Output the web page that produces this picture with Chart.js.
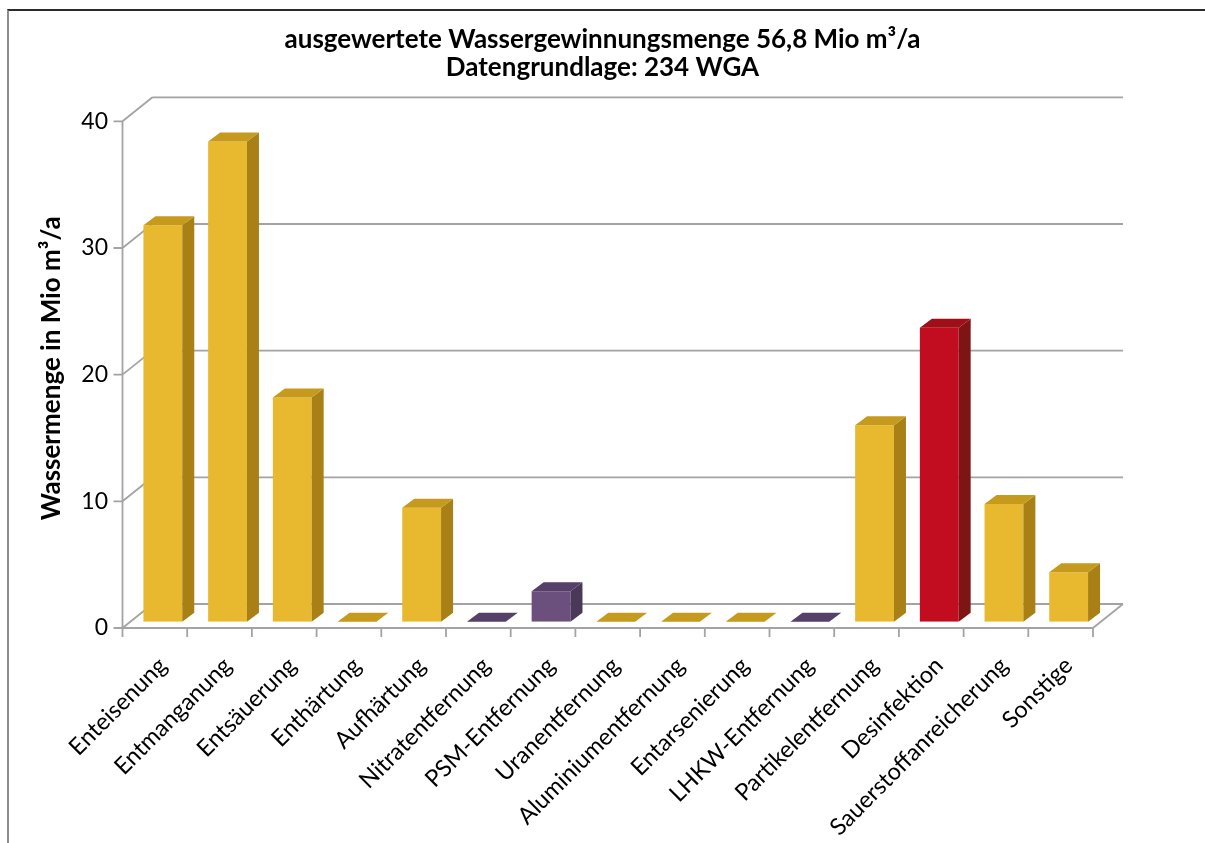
<!DOCTYPE html>
<html>
<head>
<meta charset="utf-8">
<script src="https://cdn.jsdelivr.net/npm/chart.js@4.4.0/dist/chart.umd.min.js"></script>
<style>
  html, body { margin: 0; padding: 0; background: #fff; }
  #frame { position: absolute; left: 7px; top: 9px; right: 0; height: 900px;
           border-left: 2px solid #8c8c8c; border-top: 2px solid #2a2a2a; }
  #chart { position: absolute; left: 0; top: 0; }
</style>
</head>
<body>
<div id="frame"></div>
<canvas id="chart" width="1205" height="843"></canvas>
<script>
// values (Mio m³/a)
const categories = [
  'Enteisenung', 'Entmanganung', 'Entsäuerung', 'Enthärtung', 'Aufhärtung',
  'Nitratentfernung', 'PSM-Entfernung', 'Uranentfernung', 'Aluminiumentfernung',
  'Entarsenierung', 'LHKW-Entfernung', 'Partikelentfernung', 'Desinfektion',
  'Sauerstoffanreicherung', 'Sonstige'
];
const waterVolume = [31.3, 37.9, 17.7, 0, 9.0, 0, 2.4, 0, 0, 0, 0, 15.5, 23.2, 9.3, 3.9];
const yTicks = [0, 10, 20, 30, 40];
const purpleCats = ['Nitratentfernung', 'PSM-Entfernung', 'LHKW-Entfernung'];
const redCats = ['Desinfektion'];
const titleLines = ['ausgewertete Wassergewinnungsmenge 56,8 Mio m³/a', 'Datengrundlage: 234 WGA'];
const yTitle = 'Wassermenge in Mio m³/a';

const palette = {
  yellow: { front: '#E8B82E', top: '#C69A1C', side: '#A88016' },
  purple: { front: '#6B4F7D', top: '#55406A', side: '#4A3858' },
  red:    { front: '#C10D1F', top: '#A00E18', side: '#7E1414' }
};
const colorOf = c => redCats.includes(c) ? palette.red : purpleCats.includes(c) ? palette.purple : palette.yellow;

// fake 3d: bar depth and floor depth offsets
const BAR_DX = 12, BAR_DY = 9;
const FRONT = { x: -8, y: 6.3 };
const BACK = { x: 22, y: -17.7 };
const LINE = '#a3a3a3';

const box3d = {
  id: 'box3d',
  beforeDatasetsDraw(chart) {
    const { ctx, chartArea: a, scales: { x, y } } = chart;
    const fl = a.left + FRONT.x, fr = a.right + FRONT.x;
    const bl = a.left + BACK.x, br = a.right + BACK.x;
    ctx.save();
    ctx.strokeStyle = LINE;
    ctx.lineWidth = 1.8;
    ctx.beginPath();
    yTicks.forEach(v => {
      const p = y.getPixelForValue(v);
      ctx.moveTo(bl, p + BACK.y); ctx.lineTo(br, p + BACK.y);
      ctx.moveTo(fl, p + FRONT.y); ctx.lineTo(bl, p + BACK.y);
      ctx.moveTo(fl - 9, p + FRONT.y); ctx.lineTo(fl, p + FRONT.y);
    });
    const y0 = y.getPixelForValue(0);
    const yTop = y.getPixelForValue(yTicks[yTicks.length - 1]);
    ctx.moveTo(fl, y0 + FRONT.y); ctx.lineTo(fl, yTop + FRONT.y);
    ctx.moveTo(fl, y0 + FRONT.y); ctx.lineTo(fr, y0 + FRONT.y);
    ctx.moveTo(fr, y0 + FRONT.y); ctx.lineTo(br, y0 + BACK.y);
    const step = (a.right - a.left) / categories.length;
    for (let i = 0; i <= categories.length; i++) {
      const px = fl + i * step;
      ctx.moveTo(px, y0 + FRONT.y); ctx.lineTo(px, y0 + FRONT.y + 9);
    }
    ctx.stroke();
    ctx.restore();
  },
  afterDatasetsDraw(chart) {
    const { ctx } = chart;
    const bars = chart.getDatasetMeta(0).data;
    ctx.save();
    bars.forEach((bar, i) => {
      const c = colorOf(categories[i]);
      const l = bar.x - bar.width / 2, r = bar.x + bar.width / 2;
      // side
      ctx.fillStyle = c.side;
      ctx.beginPath();
      ctx.moveTo(r, bar.y); ctx.lineTo(r + BAR_DX, bar.y - BAR_DY);
      ctx.lineTo(r + BAR_DX, bar.base - BAR_DY); ctx.lineTo(r, bar.base);
      ctx.closePath(); ctx.fill();
      // top
      ctx.fillStyle = c.top;
      ctx.beginPath();
      ctx.moveTo(l, bar.y); ctx.lineTo(l + BAR_DX, bar.y - BAR_DY);
      ctx.lineTo(r + BAR_DX, bar.y - BAR_DY); ctx.lineTo(r, bar.y);
      ctx.closePath(); ctx.fill();
    });
    ctx.restore();
  }
};

new Chart(document.getElementById('chart'), {
  type: 'bar',
  data: {
    labels: categories,
    datasets: [{
      data: waterVolume,
      backgroundColor: categories.map(c => colorOf(c).front),
      borderWidth: 0,
      barPercentage: 0.6,
      categoryPercentage: 1
    }]
  },
  options: {
    responsive: false,
    animation: false,
    layout: { padding: 0 },
    plugins: {
      legend: { display: false },
      tooltip: { enabled: false },
      title: {
        display: true,
        text: titleLines,
        color: '#000',
        font: { family: 'Lato', size: 26, weight: 'bold', lineHeight: 28 / 26 },
        padding: { top: 26, bottom: 33 }
      }
    },
    scales: {
      x: {
        grid: { display: false, drawTicks: false },
        border: { display: false },
        ticks: {
          autoSkip: false, minRotation: 45, maxRotation: 45, padding: 30,
          color: '#000', font: { family: 'Lato', size: 23.5 }
        },
        afterFit(s) { s.height = 843 - 621.7; }
      },
      y: {
        min: 0, max: 40,
        grid: { display: false, drawTicks: false },
        border: { display: false },
        ticks: {
          stepSize: 10, padding: 22.5, labelOffset: 6.3,
          color: '#000', font: { family: 'Lato', size: 23 }
        },
        title: {
          display: true, text: yTitle, color: '#000',
          font: { family: 'Lato', size: 26, weight: 'bold', lineHeight: 1.2 },
          padding: { top: 36 }
        },
        afterFit(s) { s.width = 130.5; }
      },
      // empty right gutter so the plot ends where the reference does
      gutter: {
        axis: 'y', position: 'right', display: true,
        grid: { display: false, drawTicks: false },
        border: { display: false },
        ticks: { display: false },
        afterFit(s) { s.width = 104; }
      }
    }
  },
  plugins: [box3d]
});
</script>
</body>
</html>
